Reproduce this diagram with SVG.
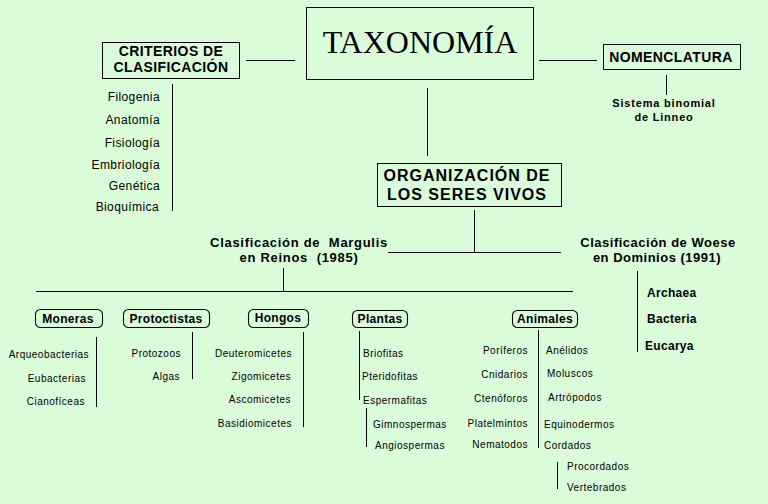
<svg xmlns="http://www.w3.org/2000/svg" width="768" height="504" viewBox="0 0 768 504">
<style>
.bg{fill:#DAFCD9}
.box{fill:none;stroke:#000;stroke-width:1.1}
.ln{stroke:#000;stroke-width:1;fill:none;shape-rendering:crispEdges}
text{font-family:"Liberation Sans",Arial,sans-serif;fill:#000}
.t14{font-size:14px;font-weight:bold;letter-spacing:0.4px}
.t16{font-size:16px;font-weight:bold;letter-spacing:1px}
.t13{font-size:13px;font-weight:bold;letter-spacing:0.7px;white-space:pre}
.t12b{font-size:12px;font-weight:bold;letter-spacing:0.3px}
.t11b{font-size:11px;font-weight:bold;letter-spacing:0.8px}
.t12{font-size:12px;letter-spacing:0.4px}
.s{font-size:10px;letter-spacing:0.5px}
.e{text-anchor:end}
.m{text-anchor:middle}
</style>
<rect class="bg" x="0" y="0" width="768" height="504"/>
<g id="connectors">
<line class="ln" x1="246" y1="60.5" x2="295" y2="60.5"/>
<line class="ln" x1="539" y1="60.5" x2="597" y2="60.5"/>
<line class="ln" x1="666.5" y1="75" x2="666.5" y2="95"/>
<line class="ln" x1="172.5" y1="84" x2="172.5" y2="211"/>
<line class="ln" x1="427.5" y1="88" x2="427.5" y2="156"/>
<line class="ln" x1="474.5" y1="210" x2="474.5" y2="252"/>
<line class="ln" x1="388" y1="252.5" x2="561" y2="252.5"/>
<line class="ln" x1="283.5" y1="268" x2="283.5" y2="291"/>
<line class="ln" x1="36" y1="291.5" x2="573" y2="291.5"/>
<line class="ln" x1="637.5" y1="271" x2="637.5" y2="352"/>
<line class="ln" x1="96.5" y1="337" x2="96.5" y2="407"/>
<line class="ln" x1="192.5" y1="332" x2="192.5" y2="379"/>
<line class="ln" x1="303.5" y1="332" x2="303.5" y2="427"/>
<line class="ln" x1="359.5" y1="331" x2="359.5" y2="400"/>
<line class="ln" x1="366.5" y1="408" x2="366.5" y2="447"/>
<line class="ln" x1="538.5" y1="330" x2="538.5" y2="448"/>
<line class="ln" x1="557.5" y1="462" x2="557.5" y2="489"/>
</g>
<g id="taxonomia">
<rect class="box" x="306.5" y="7.5" width="227" height="72" shape-rendering="crispEdges"/>
<text x="420" y="53" class="m" style="font-family:'Liberation Serif','Times New Roman',serif;font-size:32px">TAXONOMÍA</text>
</g>
<g id="criterios">
<rect class="box" x="102.5" y="42.5" width="137" height="36" shape-rendering="crispEdges"/>
<text x="171" y="56" class="t14 m">CRITERIOS DE</text>
<text x="171" y="72" class="t14 m">CLASIFICACIÓN</text>
</g>
<g id="criterios-items">
<text x="160" y="101" class="t12 e">Filogenia</text>
<text x="160" y="124" class="t12 e">Anatomía</text>
<text x="160" y="147" class="t12 e">Fisiología</text>
<text x="160" y="169" class="t12 e">Embriología</text>
<text x="160" y="190" class="t12 e">Genética</text>
<text x="159" y="211" class="t12 e">Bioquímica</text>
</g>
<g id="nomenclatura">
<rect class="box" x="603.5" y="44.5" width="137" height="25" shape-rendering="crispEdges"/>
<text x="671" y="62" class="t14 m">NOMENCLATURA</text>
</g>
<g id="sistema">
<text x="664" y="107" class="t11b m">Sistema binomial</text>
<text x="664" y="121" class="t11b m">de Linneo</text>
</g>
<g id="organizacion">
<rect class="box" x="377.5" y="163.5" width="184" height="43" shape-rendering="crispEdges"/>
<text x="467" y="181" class="t16 m">ORGANIZACIÓN DE</text>
<text x="467" y="200" class="t16 m">LOS SERES VIVOS</text>
</g>
<g id="margulis">
<text x="299" y="247" class="t13 m" xml:space="preserve">Clasificación de  Margulis</text>
<text x="299" y="262" class="t13 m" xml:space="preserve">en Reinos  (1985)</text>
</g>
<g id="woese">
<text x="658" y="247" class="t13 m" style="letter-spacing:0.5px">Clasificación de Woese</text>
<text x="657" y="262" class="t13 m" style="letter-spacing:0.5px">en Dominios (1991)</text>
</g>
<g id="dominios">
<text x="647" y="297" class="t12b">Archaea</text>
<text x="647" y="323" class="t12b">Bacteria</text>
<text x="645" y="350" class="t12b">Eucarya</text>
</g>
<g id="moneras">
<rect class="box" x="35.5" y="309.5" width="67" height="18" rx="5"/>
<text x="68" y="323" class="t12b m">Moneras</text>
<text x="89" y="358" class="s e">Arqueobacterias</text>
<text x="86" y="382" class="s e">Eubacterias</text>
<text x="85" y="405" class="s e">Cianofíceas</text>
</g>
<g id="protoctistas">
<rect class="box" x="123.5" y="309.5" width="86" height="18" rx="5"/>
<text x="166" y="323" class="t12b m">Protoctistas</text>
<text x="181" y="357" class="s e">Protozoos</text>
<text x="180" y="380" class="s e">Algas</text>
</g>
<g id="hongos">
<rect class="box" x="248.5" y="309.5" width="60" height="18" rx="5"/>
<text x="278" y="322" class="t12b m">Hongos</text>
<text x="292" y="357" class="s e">Deuteromicetes</text>
<text x="291" y="380" class="s e">Zigomicetes</text>
<text x="291" y="403" class="s e">Ascomicetes</text>
<text x="292" y="427" class="s e">Basidiomicetes</text>
</g>
<g id="plantas">
<rect class="box" x="352.5" y="310.5" width="55" height="17" rx="5"/>
<text x="380" y="323" class="t12b m">Plantas</text>
<text x="363" y="357" class="s">Briofitas</text>
<text x="362" y="380" class="s">Pteridofitas</text>
<text x="363" y="404" class="s">Espermafitas</text>
<text x="373" y="428" class="s">Gimnospermas</text>
<text x="375" y="449" class="s">Angiospermas</text>
</g>
<g id="animales">
<rect class="box" x="512.5" y="310.5" width="65" height="17" rx="5"/>
<text x="545" y="323" class="t12b m">Animales</text>
<text x="528" y="354" class="s e">Poríferos</text>
<text x="528" y="378" class="s e">Cnidarios</text>
<text x="528" y="402" class="s e">Ctenóforos</text>
<text x="528" y="427" class="s e">Platelmintos</text>
<text x="528" y="448" class="s e">Nematodos</text>
<text x="546" y="354" class="s">Anélidos</text>
<text x="547" y="377" class="s">Moluscos</text>
<text x="548" y="401" class="s">Artrópodos</text>
<text x="544" y="428" class="s">Equinodermos</text>
<text x="544" y="449" class="s">Cordados</text>
<text x="567" y="470" class="s">Procordados</text>
<text x="567" y="491" class="s">Vertebrados</text>
</g>
</svg>
